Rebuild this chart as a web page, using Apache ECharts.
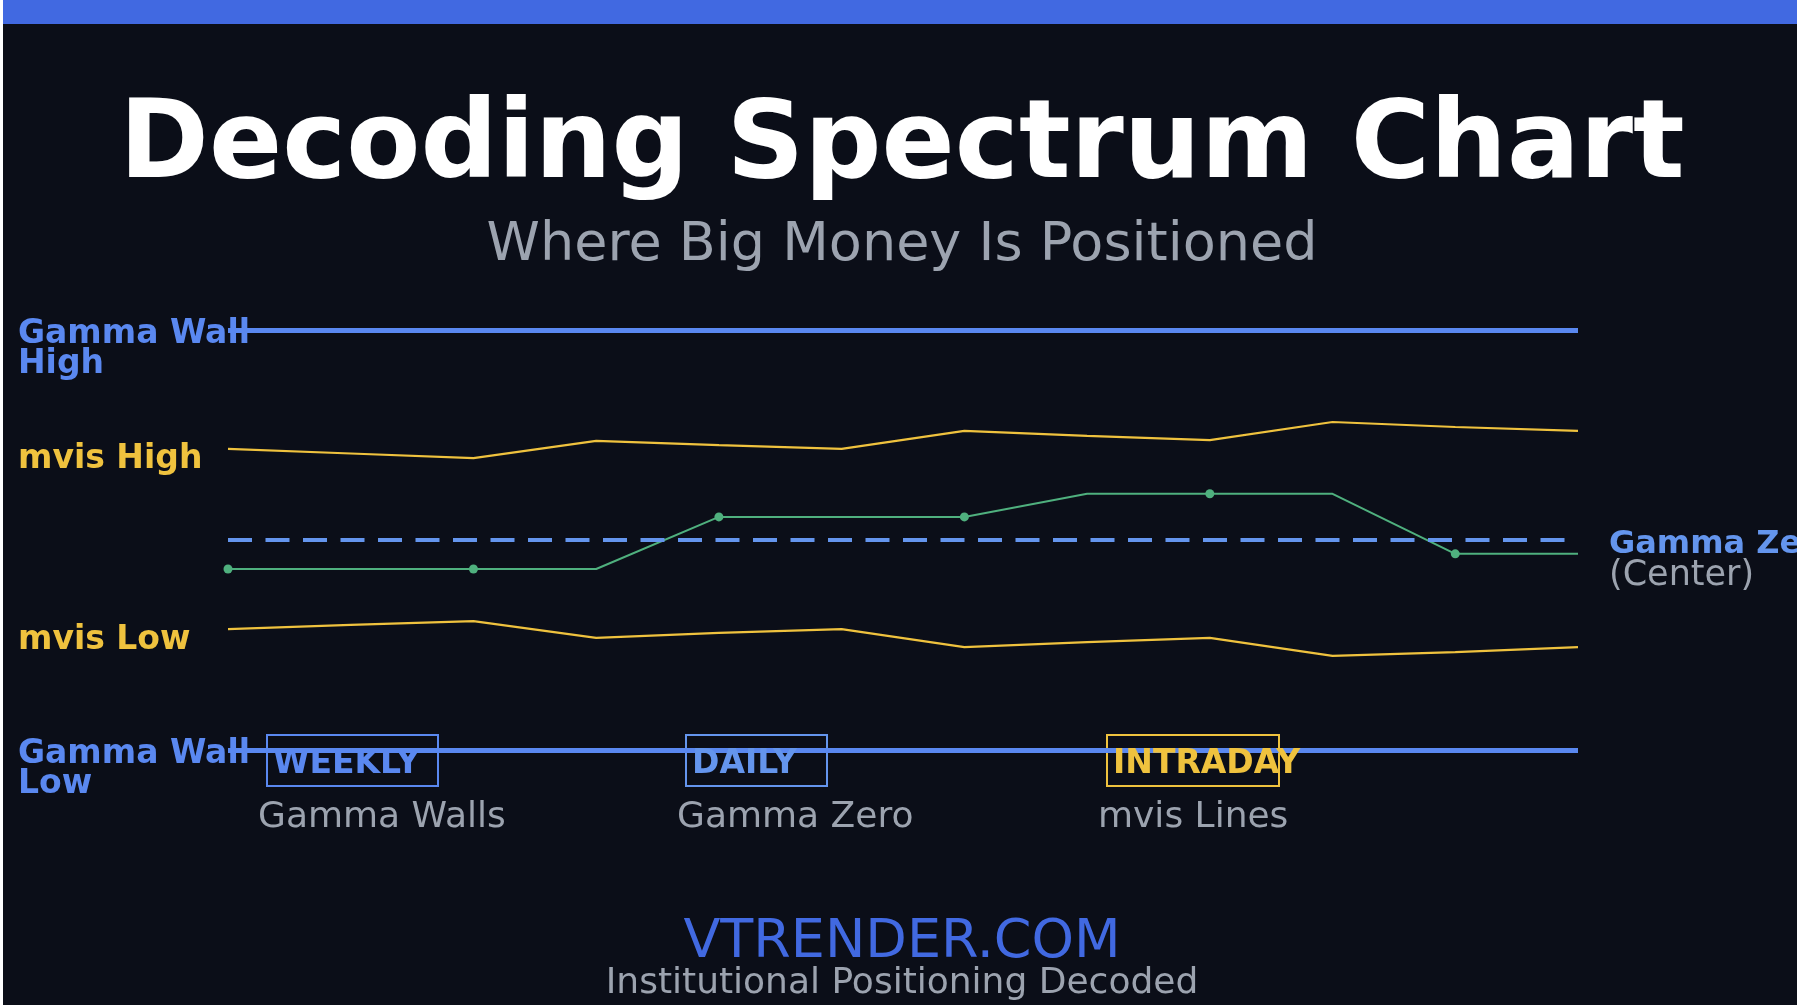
<!DOCTYPE html>
<html><head><meta charset="utf-8">
<script src="https://cdn.jsdelivr.net/npm/echarts@6/dist/echarts.min.js"></script>
<style>
html,body{margin:0;padding:0;background:#ffffff;width:1797px;height:1005px;overflow:hidden}
#c{position:absolute;left:3px;top:0;width:1794px;height:1005px;}
</style>
</head><body><div id="c"></div>
<script>
// ---- data ----
const periods = ['P1','P2','P3','P4','P5','P6','P7','P8','P9','P10','P11','P12'];
const mvisHigh = [71.7, 70.6, 69.5, 73.6, 72.6, 71.7, 76.0, 74.8, 73.8, 78.1, 76.9, 76.0];
const mvisLow  = [28.8, 29.8, 30.7, 26.7, 27.9, 28.8, 24.5, 25.7, 26.7, 22.4, 23.3, 24.5];
const priceLine = [43.1, 43.1, 43.1, 43.1, 55.5, 55.5, 55.5, 61.0, 61.0, 61.0, 46.7, 46.7];
const dotIndices = [0, 2, 4, 6, 8, 10];
const gammaWallHigh = 100;
const gammaWallLow = 0;
const gammaZero = 50;
const timeframes = ['WEEKLY', 'DAILY', 'INTRADAY'];
const timeframeNotes = ['Gamma Walls', 'Gamma Zero', 'mvis Lines'];

// ---- style / layout ----
const FONT = '"DejaVu Sans"';
const C = {
  bg: '#0b0e18', band: '#4169E1', wall: '#5a88f0', zero: '#6495ED',
  yellow: '#efc23e', green: '#4fb07e', gray: '#9ca3af', white: '#ffffff'
};
const boxLayout = [
  {x: 264, w: 171, color: C.wall},
  {x: 683, w: 141, color: C.zero},
  {x: 1104, w: 172, color: C.yellow}
];

const chart = echarts.init(document.getElementById('c'), null, {renderer: 'canvas'});
chart.setOption({
  backgroundColor: C.bg,
  animation: false,
  grid: {left: 225, right: 219, top: 330, bottom: 255},
  xAxis: {type: 'category', data: periods, boundaryGap: false, show: false},
  yAxis: {type: 'value', min: 0, max: 100, show: false},
  series: [
    {
      name: 'Levels', type: 'line', data: [], silent: true, z: 1,
      markLine: {
        silent: true, symbol: 'none', label: {show: false}, animation: false,
        data: [
          {yAxis: gammaWallHigh, lineStyle: {color: C.wall, width: 5, type: 'solid'}},
          {yAxis: gammaWallLow, lineStyle: {color: C.wall, width: 5, type: 'solid'}},
          {yAxis: gammaZero, lineStyle: {color: C.zero, width: 4, type: [24, 13.5]}}
        ]
      }
    },
    {name: 'mvis High', type: 'line', data: mvisHigh, showSymbol: false, z: 3,
     lineStyle: {color: C.yellow, width: 2.2}},
    {name: 'mvis Low', type: 'line', data: mvisLow, showSymbol: false, z: 3,
     lineStyle: {color: C.yellow, width: 2.2}},
    {name: 'Price', type: 'line', data: priceLine, z: 4,
     symbol: 'circle', showAllSymbol: true,
     symbolSize: (v, p) => dotIndices.indexOf(p.dataIndex) >= 0 ? 9 : 0,
     itemStyle: {color: C.green}, lineStyle: {color: C.green, width: 2}}
  ]
});

const yPix = v => chart.convertToPixel({yAxisIndex: 0}, v);
const gridRight = chart.convertToPixel({xAxisIndex: 0}, periods.length - 1);

const g = [];
g.push({type: 'rect', shape: {x: 0, y: 0, width: 1794, height: 24}, style: {fill: C.band}, z: 10});
g.push({type: 'text', x: 899, y: 149, z: 10, style: {text: 'Decoding Spectrum Chart', font: 'bold 108px ' + FONT, fill: C.white, align: 'center', verticalAlign: 'middle'}});
g.push({type: 'text', x: 899, y: 246, z: 10, style: {text: 'Where Big Money Is Positioned', font: '54px ' + FONT, fill: C.gray, align: 'center', verticalAlign: 'middle'}});

// left labels
g.push({type: 'text', x: 15, y: yPix(gammaWallHigh) - 11, z: 10, style: {text: 'Gamma Wall\nHigh', font: 'bold 33px ' + FONT, lineHeight: 30, fill: C.wall, align: 'left', verticalAlign: 'top'}});
g.push({type: 'text', x: 15, y: yPix(mvisHigh[0]) + 11, z: 10, style: {text: 'mvis High', font: 'bold 33px ' + FONT, fill: C.yellow, align: 'left', verticalAlign: 'middle'}});
g.push({type: 'text', x: 15, y: yPix(mvisLow[0]) + 11, z: 10, style: {text: 'mvis Low', font: 'bold 33px ' + FONT, fill: C.yellow, align: 'left', verticalAlign: 'middle'}});
g.push({type: 'text', x: 15, y: yPix(gammaWallLow) - 11, z: 10, style: {text: 'Gamma Wall\nLow', font: 'bold 33px ' + FONT, lineHeight: 30, fill: C.wall, align: 'left', verticalAlign: 'top'}});

// right label
g.push({type: 'text', x: gridRight + 31, y: yPix(gammaZero) - 11, z: 10, style: {
  text: '{b|Gamma Zero}\n{n|(Center)}', align: 'left', verticalAlign: 'top',
  rich: {
    b: {font: 'bold 32px ' + FONT, fill: C.zero, lineHeight: 31},
    n: {font: '35px ' + FONT, fill: C.gray, lineHeight: 31}
  }
}});

// timeframe boxes
timeframes.forEach((t, i) => {
  const b = boxLayout[i];
  g.push({type: 'rect', z: 2, shape: {x: b.x, y: 735, width: b.w, height: 51}, style: {fill: 'none', stroke: b.color, lineWidth: 2}});
  g.push({type: 'text', z: 11, x: b.x + 6, y: 764, style: {text: t, font: 'bold 33px ' + FONT, fill: b.color, align: 'left', verticalAlign: 'middle'}});
  g.push({type: 'text', z: 11, x: b.x - 9, y: 818, style: {text: timeframeNotes[i], font: '36px ' + FONT, fill: C.gray, align: 'left', verticalAlign: 'middle'}});
});

// footer
g.push({type: 'text', x: 899, y: 943, z: 10, style: {text: 'VTRENDER.COM', font: '54px ' + FONT, fill: C.band, align: 'center', verticalAlign: 'middle'}});
g.push({type: 'text', x: 899, y: 984, z: 10, style: {text: 'Institutional Positioning Decoded', font: '36px ' + FONT, fill: C.gray, align: 'center', verticalAlign: 'middle'}});

chart.setOption({graphic: g});
</script>
</body></html>
